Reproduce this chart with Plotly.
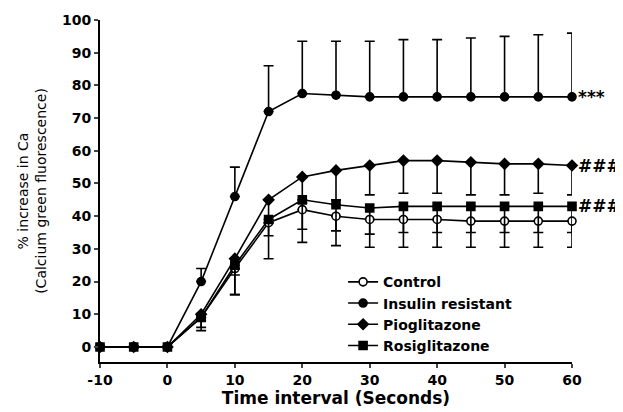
import plotly.graph_objects as go

time_s = [-10, -5, 0, 5, 10, 15, 20, 25, 30, 35, 40, 45, 50, 55, 60]
control = [0, 0, 0, 9, 24, 38, 42, 40, 39, 39, 39, 38.5, 38.5, 38.5, 38.5]
control_err_down = [0, 0, 0, 4, 8, 11, 10, 9, 8.5, 8.5, 8.5, 8, 8, 8, 8]
insulin_res = [0, 0, 0, 20, 46, 72, 77.5, 77, 76.5, 76.5, 76.5, 76.5, 76.5, 76.5, 76.5]
insulin_err_up = [0, 0, 0, 4, 9, 14, 16, 16.5, 17, 17.5, 17.5, 18, 18.5, 19, 19.5]
pioglitazone = [0, 0, 0, 10, 27, 45, 52, 54, 55.5, 57, 57, 56.5, 56, 56, 55.5]
pio_err_down = [0, 0, 0, 2, 5, 7, 8, 9, 9, 10, 10, 10, 9.5, 9, 9]
rosiglitazone = [0, 0, 0, 9, 25, 39, 45, 43.5, 42.5, 43, 43, 43, 43, 43, 43]
rosi_err_down = [0, 0, 0, 3, 9, 5, 9, 8, 8, 8, 8, 8, 8, 8, 8]

names = ["Control", "Insulin resistant", "Pioglitazone", "Rosiglitazone"]
sig_labels = ["***", "###", "###"]
x_ticks = [-10, 0, 10, 20, 30, 40, 50, 60]
x_tick_text = ["-10", "0", "10", "20", "30", "40", "50", "60"]

FONT = "DejaVu Sans"
fig = go.Figure()

def add(name, y, up, down, symbol, fill):
    fig.add_trace(go.Scatter(
        x=time_s, y=y, name=name, mode="lines+markers",
        line=dict(color="black", width=1.6),
        marker=dict(symbol=symbol, size=8, color=fill, line=dict(color="black", width=1.6)),
        error_y=dict(type="data", symmetric=False, array=up, arrayminus=down,
                     color="black", thickness=1.6, width=5),
        cliponaxis=False,
    ))

zeros = [0] * len(time_s)
add(names[0], control, zeros, control_err_down, "circle", "white")
add(names[1], insulin_res, insulin_err_up, zeros, "circle", "black")
add(names[2], pioglitazone, zeros, pio_err_down, "diamond", "black")
add(names[3], rosiglitazone, zeros, rosi_err_down, "square", "black")

for series, lab in zip([insulin_res, pioglitazone, rosiglitazone], sig_labels):
    fig.add_annotation(x=time_s[-1], y=series[-1], text=lab, showarrow=False,
                       xanchor="left", yanchor="middle", xshift=4,
                       font=dict(family=FONT, size=17, color="black", weight="bold"))

fig.update_layout(
    width=615, height=404,
    margin=dict(l=92, r=51, t=12, b=50),
    plot_bgcolor="white", paper_bgcolor="white",
    font=dict(family=FONT, size=14, color="black"),
    showlegend=True,
    legend=dict(x=0.515, y=0.28, xanchor="left", yanchor="top",
                bgcolor="rgba(0,0,0,0)", itemwidth=30,
                font=dict(family=FONT, size=14, color="black", weight="bold"),
                tracegroupgap=0),
    xaxis=dict(range=[-10, 60], tickvals=x_ticks, ticktext=x_tick_text,
               showline=True, linecolor="black", linewidth=2, ticks="outside",
               ticklen=4, tickwidth=1.5, showgrid=False, zeroline=False,
               automargin=False,
               tickfont=dict(family=FONT, size=14, weight="bold"),
               title=dict(text="Time interval (Seconds)", standoff=5,
                          font=dict(family=FONT, size=17, weight="bold"))),
    yaxis=dict(range=[-4.6, 100], tickvals=list(range(0, 101, 10)),
               showline=True, linecolor="black", linewidth=2, ticks="outside",
               ticklen=4, tickwidth=1.5, showgrid=False, zeroline=False,
               automargin=False,
               tickfont=dict(family=FONT, size=14, weight="bold"),
               title=dict(text="% increase in Ca<br>(Calcium green fluorescence)", standoff=12,
                          font=dict(family=FONT, size=14))),
)

fig.write_html("out.html")
